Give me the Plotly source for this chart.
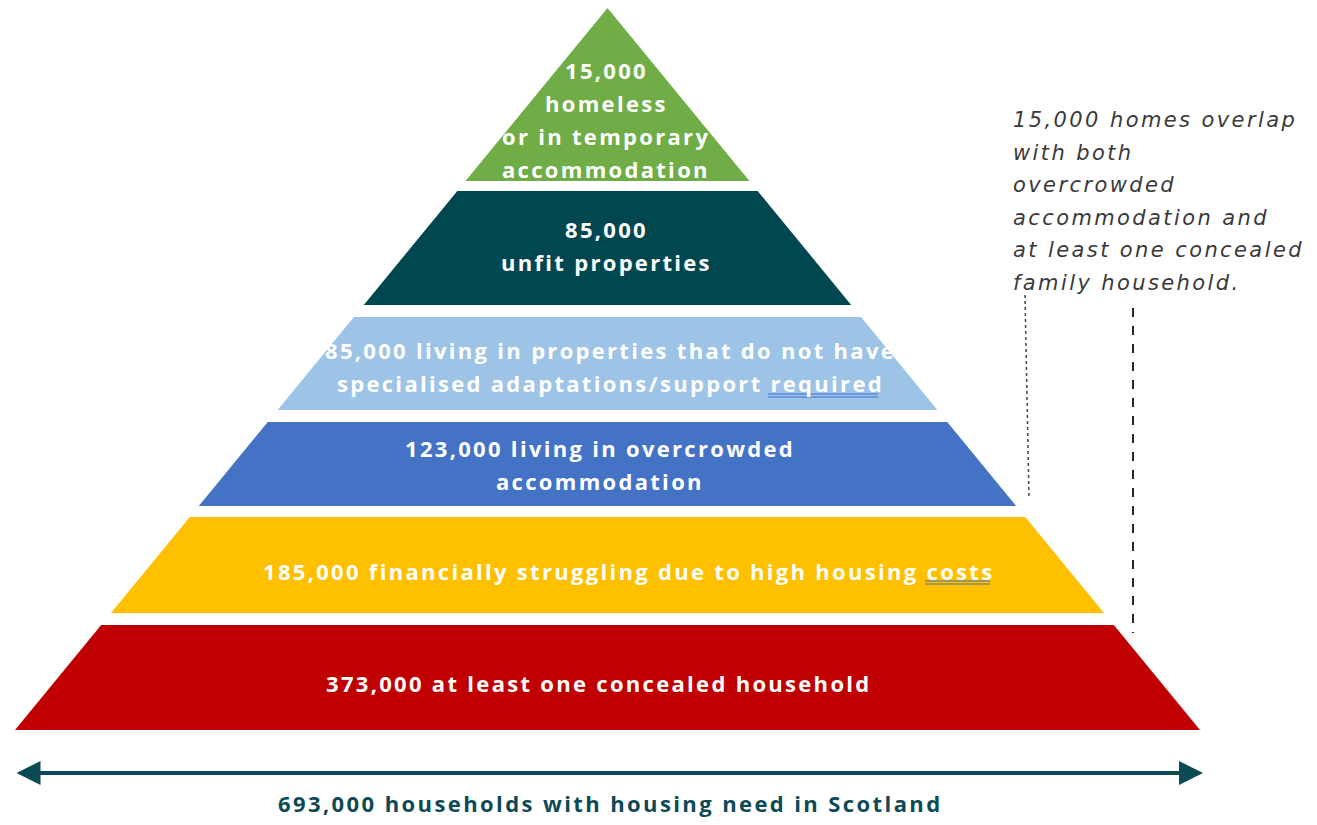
import plotly.graph_objects as go

# ---- data ----
counts = [15000, 85000, 85000, 123000, 185000, 373000]
label_lines = [
    ["{n}", "homeless", "or in temporary", "accommodation"],
    ["{n}", "unfit properties"],
    ["{n} living in properties that do not have", "specialised adaptations/support required"],
    ["{n} living in overcrowded", "accommodation"],
    ["{n} financially struggling due to high housing costs"],
    ["{n} at least one concealed household"],
]
colors = ["#70AD47", "#01474F", "#9DC3E6", "#4472C4", "#FFC000", "#C00000"]
total_households = 693000
total_label = "{n} households with housing need in Scotland"
note_lines = ["15,000 homes overlap", "with both", "overcrowded",
              "accommodation and", "at least one concealed", "family household."]

# ---- layout geometry (page pixels; page body has an 8px margin) ----
W, H = 1317, 825
PAD = 8
apex_x, apex_y = 607.5, 8
base_y, half_base = 730, 592.5
slope = half_base / (base_y - apex_y)
tier_bounds = [(8, 181), (191, 305), (317, 410), (422, 506), (517, 613), (625, 730)]
text_first_y = [70, 229, 350, 448, 571, 683]
text_x = [606, 606, 610, 600, 628, 599]
line_gap = 33


def spaced(t, px):
    return f'<span style="letter-spacing:{px}px">{t}</span>'


fig = go.Figure()
for i, (y0, y1) in enumerate(tier_bounds):
    hw0 = (y0 - apex_y) * slope
    hw1 = (y1 - apex_y) * slope
    xs = [apex_x - hw0, apex_x + hw0, apex_x + hw1, apex_x - hw1, apex_x - hw0]
    ys = [y0, y0, y1, y1, y0]
    fig.add_trace(go.Scatter(x=xs, y=ys, fill="toself", fillcolor=colors[i],
                             mode="lines", line=dict(width=0), hoverinfo="skip",
                             showlegend=False))
    for j, ln in enumerate(label_lines[i]):
        fig.add_annotation(x=text_x[i], y=text_first_y[i] + j * line_gap,
                           text=spaced(ln.format(n=f"{counts[i]:,}"), 2.3), showarrow=False,
                           xanchor="center", yanchor="middle",
                           font=dict(family="Open Sans", size=22, color="white", weight=700))

# double underlines (spell-check style)
for (ux0, ux1, uy, c) in [(768, 878, 394, "#3F6FD8"), (925, 990, 581, "#4A6FA8")]:
    for dy in (0, 3):
        fig.add_shape(type="line", x0=ux0, x1=ux1, y0=uy + dy, y1=uy + dy,
                      line=dict(color=c, width=1.2))

# bottom double arrow
fig.add_annotation(x=1203, y=773, ax=15, ay=773, axref="x", ayref="y", xref="x", yref="y",
                   showarrow=True, arrowhead=2, arrowside="end+start", arrowsize=1.2,
                   arrowwidth=4, arrowcolor="#0B4A54", text="")
fig.add_annotation(x=610, y=803, text=spaced(total_label.format(n=f"{total_households:,}"), 2.4),
                   showarrow=False, yanchor="middle",
                   font=dict(family="Open Sans", size=22, color="#0E4A55", weight=700))

# note text
for k, ln in enumerate(note_lines):
    fig.add_annotation(x=1011, y=120 + k * 32.6, text=f"<i>{spaced(ln, 2.4)}</i>", showarrow=False,
                       xanchor="left", yanchor="middle",
                       font=dict(family="DejaVu Sans", size=21, color="#3A3A3A"))

# dashed connector lines
fig.add_shape(type="line", x0=1025, x1=1029, y0=295, y1=497,
              line=dict(color="#444444", width=1.5, dash="dot"))
fig.add_shape(type="line", x0=1133, x1=1133, y0=308, y1=633,
              line=dict(color="#111111", width=1.8, dash="dash"))

fig.update_layout(
    width=W - 2 * PAD, height=H - 2 * PAD, margin=dict(l=0, r=0, t=0, b=0),
    paper_bgcolor="white", plot_bgcolor="white",
    xaxis=dict(range=[PAD, W - PAD], visible=False, fixedrange=True),
    yaxis=dict(range=[H - PAD, PAD], visible=False, fixedrange=True),
)
fig.write_html("out.html")
